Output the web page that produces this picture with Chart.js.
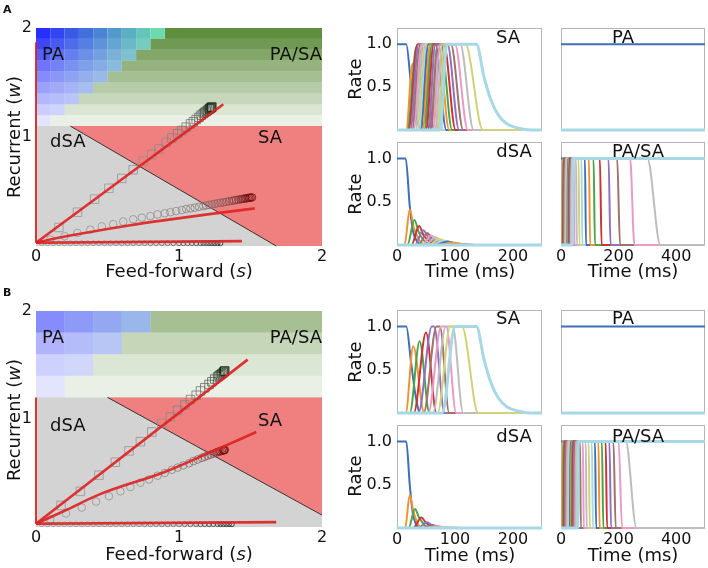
<!DOCTYPE html>
<html>
<head>
<meta charset="utf-8">
<script src="https://cdn.jsdelivr.net/npm/chart.js@4.4.0/dist/chart.umd.min.js"></script>
<style>
body { margin:0; background:#fff; width:708px; height:568px; overflow:hidden; position:relative; font-family:'DejaVu Sans', sans-serif; color:#111; }
canvas { position:absolute; }
.t { position:absolute; white-space:nowrap; transform:translate(-50%,-50%); font-size:18px; line-height:1; }
.v { transform:translate(-50%,-50%) rotate(-90deg); }
.tl { position:absolute; white-space:nowrap; transform:translate(0,-50%); font-size:18px; line-height:1; }
.tr { position:absolute; white-space:nowrap; transform:translate(-100%,-50%); font-size:18px; line-height:1; }
.pl { position:absolute; font-weight:bold; font-size:11px; }
</style>
</head>
<body>
<canvas id="phA"></canvas>
<canvas id="phB"></canvas>
<canvas id="saA"></canvas><canvas id="paA"></canvas><canvas id="dsaA"></canvas><canvas id="pasaA"></canvas>
<canvas id="saB"></canvas><canvas id="paB"></canvas><canvas id="dsaB"></canvas><canvas id="pasaB"></canvas>

<div class="pl" style="left:3px;top:3px">A</div>
<div class="pl" style="left:3px;top:286px">B</div>

<div class="tl" style="left:42px;top:54px">PA</div>
<div class="tr" style="left:322px;top:54px">PA/SA</div>
<div class="tl" style="left:50px;top:141px">dSA</div>
<div class="tl" style="left:258px;top:137px">SA</div>
<div class="tl" style="left:42px;top:337px">PA</div>
<div class="tr" style="left:322px;top:337px">PA/SA</div>
<div class="tl" style="left:50px;top:425px">dSA</div>
<div class="tl" style="left:258px;top:420px">SA</div>

<div class="t" style="left:508px;top:37px">SA</div>
<div class="t" style="left:623px;top:37px">PA</div>
<div class="t" style="left:514px;top:151px">dSA</div>
<div class="t" style="left:638px;top:151px">PA/SA</div>
<div class="t" style="left:508px;top:318px">SA</div>
<div class="t" style="left:623px;top:318px">PA</div>
<div class="t" style="left:514px;top:436px">dSA</div>
<div class="t" style="left:638px;top:436px">PA/SA</div>

<div class="t" style="left:179px;top:271px">Feed-forward (<i>s</i>)</div>
<div class="t" style="left:179px;top:554px">Feed-forward (<i>s</i>)</div>
<div class="t v" style="left:14px;top:137px">Recurrent (<i>w</i>)</div>
<div class="t v" style="left:14px;top:420px">Recurrent (<i>w</i>)</div>
<div class="t" style="left:470px;top:271px">Time (ms)</div>
<div class="t" style="left:633px;top:271px">Time (ms)</div>
<div class="t" style="left:470px;top:555px">Time (ms)</div>
<div class="t" style="left:633px;top:555px">Time (ms)</div>
<div class="t v" style="left:355px;top:79px">Rate</div>
<div class="t v" style="left:355px;top:194px">Rate</div>
<div class="t v" style="left:355px;top:362px">Rate</div>
<div class="t v" style="left:355px;top:476px">Rate</div>

<script>
// ---------- phase diagrams ----------
const sTicks = [0, 1, 2];
const wTicks = [1, 2];

// panel A
const rowTopA = [2.0, 1.9, 1.8, 1.7, 1.6, 1.5, 1.4, 1.3, 1.2];
const paEdgeA = [0.9, 0.8, 0.7, 0.6, 0.5, 0.4, 0.3, 0.2, 0.1];
const splitA = 1.1;
const dsaEdgeA = [[0.24, 1.1], [1.68, 0]];
const sqA_s = [0.16,0.29,0.41,0.51,0.60,0.68,0.75,0.81,0.86,0.91,0.95,0.99,1.02,1.05,1.08,1.10,1.12,1.14,1.155,1.17,1.18,1.19,1.20,1.21,1.215,1.22,1.225,1.23];
const sqA_w = [0.17,0.31,0.43,0.53,0.62,0.70,0.78,0.84,0.89,0.95,0.99,1.03,1.06,1.09,1.12,1.14,1.16,1.18,1.20,1.215,1.225,1.235,1.245,1.255,1.26,1.265,1.27,1.275];
const ciA_s = [0.10,0.20,0.29,0.38,0.46,0.54,0.61,0.68,0.74,0.80,0.85,0.90,0.94,0.98,1.02,1.05,1.08,1.11,1.14,1.17,1.19,1.21,1.23,1.25,1.27,1.29,1.31,1.33,1.35,1.37,1.385,1.40,1.415,1.43,1.44,1.45,1.46,1.47,1.48,1.49,1.50,1.51];
const ciA_w = [0.06,0.09,0.12,0.15,0.18,0.20,0.225,0.245,0.26,0.275,0.29,0.30,0.31,0.32,0.33,0.34,0.345,0.352,0.36,0.366,0.372,0.377,0.382,0.387,0.392,0.397,0.40,0.405,0.41,0.415,0.418,0.422,0.425,0.428,0.43,0.433,0.435,0.437,0.44,0.442,0.444,0.446];
const lowA_s = [0.04,0.08,0.12,0.16,0.20,0.24,0.28,0.32,0.36,0.40,0.44,0.48,0.52,0.56,0.60,0.64,0.68,0.72,0.76,0.80,0.84,0.88,0.92,0.96,1.00,1.03,1.06,1.09,1.12,1.15,1.17,1.19,1.21,1.23,1.25,1.27,1.29];
const lowA_w = 0.025;
const fit1A_s = [0, 1.31], fit1A_w = [0.03, 1.30];
const fit2A_s = [0, 0.1, 0.3, 0.66, 0.89, 1.2, 1.53], fit2A_w = [0.03, 0.06, 0.11, 0.19, 0.235, 0.29, 0.345];
const fit3A_s = [0, 1.44], fit3A_w = [0.03, 0.045];
const axisFitA_w = [0.03, 1.87];

// panel B
const rowTopB = [2.0, 1.8, 1.6, 1.4];
const paEdgeB = [0.8, 0.6, 0.4, 0.2];
const splitB = 1.2;
const dsaEdgeB = [[0.5, 1.2], [2.0, 0.11]];
const sqB_s = [0.175,0.31,0.44,0.555,0.65,0.73,0.81,0.88,0.94,0.99,1.04,1.08,1.12,1.15,1.18,1.21,1.23,1.25,1.27,1.28,1.29,1.30,1.31,1.315,1.32];
const sqB_w = [0.20,0.33,0.48,0.60,0.705,0.79,0.88,0.96,1.02,1.08,1.13,1.18,1.22,1.26,1.29,1.32,1.345,1.37,1.39,1.40,1.41,1.42,1.43,1.44,1.445];
const ciB_s = [0.10,0.21,0.32,0.42,0.51,0.59,0.66,0.73,0.79,0.85,0.90,0.95,0.99,1.03,1.07,1.10,1.13,1.16,1.18,1.20,1.22,1.24,1.26,1.27,1.28,1.29,1.30,1.31,1.315,1.32];
const ciB_w = [0.07,0.125,0.18,0.235,0.285,0.33,0.37,0.41,0.44,0.475,0.50,0.53,0.55,0.57,0.59,0.61,0.625,0.64,0.65,0.66,0.67,0.68,0.69,0.695,0.70,0.70,0.705,0.71,0.71,0.715];
const lowB_s = [0.04,0.08,0.12,0.16,0.20,0.24,0.28,0.32,0.36,0.40,0.44,0.48,0.52,0.56,0.60,0.64,0.68,0.72,0.76,0.80,0.84,0.88,0.92,0.96,1.00,1.04,1.08,1.12,1.15,1.18,1.21,1.24,1.27,1.29,1.31,1.33,1.35,1.37];
const lowB_w = 0.025;
const fit1B_s = [0, 1.48], fit1B_w = [0.03, 1.55];
const fit2B_s = [0, 0.2, 0.44, 0.9, 1.2, 1.54], fit2B_w = [0.03, 0.15, 0.30, 0.51, 0.68, 0.88];
const fit3B_s = [0, 1.68], fit3B_w = [0.03, 0.045];
const axisFitB_w = [0.03, 1.2];

// ---------- rate traces (time ms, rate) ----------
const saA = [
  [[0,1],[16,1],[24,0.55],[32,0.2],[42,0]],
  [[16,0],[25,0.72],[28,0.78],[38,0.3],[48,0]],
  [[18,0],[31,0.9],[34,0.97],[44,0.4],[52,0]],
  [[20,0],[35,1],[38,1],[56,0]],
  [[23,0],[37,1],[42,1],[60,0]],
  [[26,0],[40,1],[46,1],[64,0]],
  [[29,0],[42,1],[50,1],[68,0]],
  [[32,0],[45,1],[54,1],[72,0]],
  [[35,0],[48,1],[58,1],[76,0]],
  [[38,0],[51,1],[62,1],[80,0]],
  [[41,0],[54,1],[66,1],[85,0]],
  [[44,0],[57,1],[71,1],[90,0]],
  [[47,0],[60,1],[76,1],[95,0]],
  [[50,0],[63,1],[81,1],[101,0]],
  [[54,0],[66,1],[87,1],[107,0]],
  [[58,0],[70,1],[93,1],[114,0]],
  [[62,0],[74,1],[100,1],[122,0]],
  [[66,0],[78,1],[109,1],[132,0]],
  [[70,0],[82,1],[118,1],[148,0]],
  [[74,0],[86,1],[137,1],[150,0.62],[162,0.35],[175,0.17],[190,0.07],[210,0.02],[230,0]]
];
const dsaA = [
  [[0,1],[15,1],[22,0.45],[28,0.15],[36,0.03],[44,0]],
  [[13,0],[22,0.41],[29,0.2],[38,0.06],[50,0]],
  [[18,0],[30,0.29],[38,0.14],[48,0.04],[60,0]],
  [[25,0],[38,0.22],[46,0.11],[58,0.03],[70,0]],
  [[31,0],[45,0.17],[54,0.09],[66,0.02],[80,0]],
  [[37,0],[52,0.14],[61,0.07],[74,0.02],[88,0]],
  [[43,0],[59,0.11],[68,0.06],[82,0.02],[96,0]],
  [[49,0],[66,0.09],[76,0.05],[90,0.015],[105,0]],
  [[55,0],[73,0.07],[84,0.04],[98,0.01],[115,0]],
  [[61,0],[80,0.05],[92,0.03],[108,0.01],[125,0]],
  [[67,0],[87,0.04],[100,0.02],[135,0]],
  [[73,0],[94,0.03],[108,0.015],[140,0]],
  [[0,0],[250,0]]
];
const pasaRiseA = [0, 4, 6, 8, 10, 12, 14, 16, 18, 20, 22, 24, 26, 28, 30, 32, 34, 36, 38, 40];
const pasaFallStartA = [10,14,19,25,31,37,44,52,61,71,83,97,113,135,165,195,240,300,null,null];
const pasaFallEndA   = [13,17,22,28,34,40,47,55,64,74,87,101,118,141,172,205,255,345,null,null];

const saB = [
  [[0,1],[16,1],[24,0.6],[32,0.2],[40,0]],
  [[15,0],[28,0.77],[47,0]],
  [[22,0],[39,0.83],[56,0]],
  [[29,0],[50,0.93],[68,0]],
  [[37,0],[60,1],[64,1],[82,0]],
  [[46,0],[68,1],[74,1],[90,0]],
  [[54,0],[76,1],[85,1],[102,0]],
  [[62,0],[84,1],[96,1],[114,0]],
  [[70,0],[92,1],[112,1],[140,0]],
  [[78,0],[100,1],[137,1],[150,0.62],[162,0.35],[175,0.17],[190,0.07],[210,0.02],[230,0]]
];
const dsaB = [
  [[0,1],[16,1],[22,0.5],[27,0.18],[33,0.04],[40,0]],
  [[14,0],[22,0.38],[28,0.2],[36,0.05],[46,0]],
  [[20,0],[31,0.22],[38,0.12],[48,0.03],[58,0]],
  [[28,0],[42,0.12],[50,0.06],[60,0.015],[72,0]],
  [[36,0],[52,0.065],[60,0.035],[72,0.01],[84,0]],
  [[44,0],[60,0.035],[70,0.02],[95,0]],
  [[50,0],[68,0.02],[80,0.01],[105,0]],
  [[56,0],[76,0.01],[110,0]],
  [[62,0],[84,0.006],[115,0]],
  [[0,0],[250,0]]
];
const pasaRiseB = [0, 4, 7, 10, 13, 16, 19, 22, 25, 28, 31, 34, 37, 40, 43, 46, 49, 52, 55, 58];
const pasaFallStartB = [16,26,36,46,56,66,76,86,96,107,118,130,142,155,168,182,200,225,null,null];
const pasaFallEndB   = [19,29,39,49,59,69,79,89,100,111,122,134,147,160,174,190,212,262,null,null];

// PA: first unit stays active, the rest stay silent
const paA = [[[0,1],[500,1]], [[0,0],[500,0]]];
const paB = [[[0,1],[500,1]], [[0,0],[500,0]]];

const tSA = [0, 100, 200], tPASA = [0, 200, 400];
const rateTicks = [0.5, 1.0];

// ---------- styling ----------
Chart.defaults.font.family = "'DejaVu Sans', sans-serif";
Chart.defaults.font.size = 16;
Chart.defaults.color = '#111';
const palette = ['#3f6fb5','#f39233','#4aa44a','#cc3333','#9170c0','#9c7468','#e89ac8','#bdbdbd','#d2d27a','#a6d8e6'];
const styleA = { cellW: 0.1, alpha: [0.94,0.84,0.73,0.63,0.53,0.43,0.33,0.22,0.12], teal: 1, tealCols: 8 };
const styleB = { cellW: 0.2, alpha: [0.52,0.34,0.21,0.12], teal: 0.45, tealCols: 3 };

function place(id, L, T, R, B, m) {
  const c = document.getElementById(id);
  const w = R - L + m.l + m.r, h = B - T + m.t + m.b;
  c.width = w; c.height = h;
  c.style.width = w + 'px'; c.style.height = h + 'px';
  c.style.left = (L - m.l) + 'px'; c.style.top = (T - m.t) + 'px';
  return c;
}
const zip = (xs, ys) => xs.map((x, i) => ({ x: x, y: Array.isArray(ys) ? ys[i] : ys }));
// keep the plot box fixed: no extra room for edge labels
const noPad = s => { s.paddingTop = 0; s.paddingBottom = 0; s.paddingLeft = 0; s.paddingRight = 0; };

function shade(n, end) {
  return Array.from({ length: n }, (_, i) => {
    const f = Math.pow(i / (n - 1), 2);
    const g = 150 * (1 - f);
    return 'rgb(' + Math.round(g + end[0] * f) + ',' + Math.round(g + end[1] * f) + ',' + Math.round(g + end[2] * f) + ')';
  });
}

function regionPlugin(rowTop, paEdge, split, edge, st) {
  return {
    id: 'regions',
    beforeDatasetsDraw(chart) {
      const ctx = chart.ctx, x = chart.scales.x, y = chart.scales.y;
      const X = v => x.getPixelForValue(v), Y = v => y.getPixelForValue(v);
      ctx.save();
      ctx.fillStyle = '#d3d3d3';
      ctx.fillRect(X(0), Y(split), X(2) - X(0), Y(0) - Y(split));
      ctx.fillStyle = '#f08080';
      ctx.beginPath();
      ctx.moveTo(X(edge[0][0]), Y(edge[0][1]));
      ctx.lineTo(X(2), Y(split));
      ctx.lineTo(X(2), Y(0));
      if (edge[1][0] < 2) ctx.lineTo(X(edge[1][0]), Y(0));
      ctx.lineTo(X(edge[1][0]), Y(edge[1][1]));
      ctx.closePath(); ctx.fill();
      rowTop.forEach((top, i) => {
        const bot = i + 1 < rowTop.length ? rowTop[i + 1] : split;
        const a = st.alpha[i];
        ctx.fillStyle = 'rgba(85,135,50,' + a + ')';
        ctx.fillRect(X(paEdge[i]), Y(top), X(2) - X(paEdge[i]), Y(bot) - Y(top));
        const n = Math.round(paEdge[i] / st.cellW);
        for (let j = 0; j < n; j++) {
          const t = Math.min(1, j / st.tealCols) * st.teal;
          const r = 25 + (100 - 25) * t, g = 35 + (215 - 35) * t, b = 250 + (170 - 250) * t;
          ctx.fillStyle = 'rgba(' + Math.round(r) + ',' + Math.round(g) + ',' + Math.round(b) + ',' + a + ')';
          ctx.fillRect(X(j * st.cellW), Y(top), X((j + 1) * st.cellW) - X(j * st.cellW), Y(bot) - Y(top));
        }
      });
      ctx.strokeStyle = '#111'; ctx.lineWidth = 0.8;
      ctx.beginPath();
      ctx.moveTo(X(edge[0][0]), Y(edge[0][1]));
      ctx.lineTo(X(edge[1][0]), Y(edge[1][1]));
      ctx.stroke();
      ctx.restore();
    }
  };
}

function phaseChart(id, area, P) {
  const m = { l: 40, t: 14, r: 10, b: 24 };
  const c = place(id, area[0], area[1], area[2], area[3], m);
  const red = 'rgba(222,35,35,0.92)';
  const fitLine = (xs, ys, lw) => ({ data: zip(xs, ys), showLine: true, borderColor: red, borderWidth: lw,
    pointRadius: 0, cubicInterpolationMode: 'monotone', order: 0 });
  new Chart(c, {
    type: 'scatter',
    data: { datasets: [
      fitLine(P.f1s, P.f1w, 2.6), fitLine(P.f2s, P.f2w, 2.6), fitLine(P.f3s, P.f3w, 2.6), fitLine([0, 0], P.axw, 2),
      { data: zip(P.lows, P.loww), pointStyle: 'circle', pointRadius: 2.4, pointBorderWidth: 0.8,
        pointBackgroundColor: 'rgba(0,0,0,0)', pointBorderColor: shade(P.lows.length, [30, 30, 30]), order: 1 },
      { data: zip(P.cis, P.ciw), pointStyle: 'circle', pointRadius: 3.8, pointBorderWidth: 0.8,
        pointBackgroundColor: 'rgba(0,0,0,0)', pointBorderColor: shade(P.cis.length, [110, 0, 0]), order: 2 },
      { data: zip(P.sqs, P.sqw), pointStyle: 'rect', pointRadius: 6, pointBorderWidth: 0.8,
        pointBackgroundColor: 'rgba(0,0,0,0)', pointBorderColor: shade(P.sqs.length, [10, 30, 10]), order: 3 }
    ].map(d => Object.assign({ clip: false }, d)) },
    options: {
      responsive: false, animation: false, events: [],
      layout: { padding: { left: 0, top: m.t, right: m.r, bottom: 0 } },
      plugins: { legend: { display: false }, tooltip: { enabled: false } },
      scales: {
        x: { type: 'linear', min: 0, max: 2, afterFit(s) { s.height = m.b; noPad(s); },
          afterBuildTicks(s) { s.ticks = sTicks.map(v => ({ value: v })); },
          grid: { display: false, drawTicks: false }, border: { display: false },
          ticks: { padding: 1, maxRotation: 0, autoSkip: false, callback: v => String(v) } },
        y: { type: 'linear', min: 0, max: 2, afterFit(s) { s.width = m.l; noPad(s); },
          afterBuildTicks(s) { s.ticks = wTicks.map(v => ({ value: v })); },
          grid: { display: false, drawTicks: false }, border: { display: false },
          ticks: { padding: 4, autoSkip: false, callback: v => String(v) } }
      }
    },
    plugins: [regionPlugin(P.rowTop, P.paEdge, P.split, P.edge, P.style)]
  });
}

const framePlugin = {
  id: 'frame',
  beforeDatasetsDraw(chart) {
    const a = chart.chartArea, ctx = chart.ctx;
    ctx.save(); ctx.strokeStyle = '#b5b5b5'; ctx.lineWidth = 1;
    ctx.strokeRect(a.left + 0.5, a.top + 0.5, a.right - a.left - 1, a.bottom - a.top - 1);
    ctx.restore();
  }
};

function extend(pts, xmax) {
  const out = pts.slice();
  if (out[0][0] > 0) out.unshift([0, out[0][1]]);
  const last = out[out.length - 1];
  if (last[0] < xmax) out.push([xmax, last[1]]);
  return out;
}
function stepCurves(rise, fs, fe) {
  return rise.map((r, i) => {
    const pts = r > 0 ? [[r, 0], [r + 2, 1]] : [[0, 1]];
    if (fs[i] != null) pts.push([fs[i], 1], [fe[i], 0]);
    return pts;
  });
}

function rateChart(id, area, curves, xmax, xticks, showX, showY) {
  const m = { l: 48, t: 6, r: 3, b: 24 };
  const c = place(id, area[0], area[1], area[2], area[3], m);
  const n = curves.length;
  new Chart(c, {
    type: 'scatter',
    data: { datasets: curves.map((pts, i) => ({
      data: extend(pts, xmax).map(p => ({ x: p[0], y: p[1] })),
      showLine: true, pointRadius: 0, clip: false,
      borderColor: i === n - 1 ? palette[9] : palette[i % 10], borderWidth: i === n - 1 ? 3 : 2,
      cubicInterpolationMode: 'monotone', order: n - i
    })) },
    options: {
      responsive: false, animation: false, events: [],
      layout: { padding: { left: 0, top: m.t, right: m.r, bottom: 0 } },
      plugins: { legend: { display: false }, tooltip: { enabled: false } },
      scales: {
        x: { type: 'linear', min: 0, max: xmax, afterFit(s) { s.height = m.b; noPad(s); },
          afterBuildTicks(s) { s.ticks = xticks.map(v => ({ value: v })); },
          grid: { display: false, drawTicks: false }, border: { display: false },
          ticks: { display: showX, padding: 2, maxRotation: 0, autoSkip: false, callback: v => String(v) } },
        y: { type: 'linear', min: 0, max: 1.19, afterFit(s) { s.width = m.l; noPad(s); },
          afterBuildTicks(s) { s.ticks = rateTicks.map(v => ({ value: v })); },
          grid: { display: false, drawTicks: false }, border: { display: false },
          ticks: { display: showY, padding: 5, autoSkip: false, callback: v => v.toFixed(1) } }
      }
    },
    plugins: [framePlugin]
  });
}

phaseChart('phA', [36, 28, 322, 246], {
  rowTop: rowTopA, paEdge: paEdgeA, split: splitA, edge: dsaEdgeA, style: styleA,
  sqs: sqA_s, sqw: sqA_w, cis: ciA_s, ciw: ciA_w, lows: lowA_s, loww: lowA_w,
  f1s: fit1A_s, f1w: fit1A_w, f2s: fit2A_s, f2w: fit2A_w, f3s: fit3A_s, f3w: fit3A_w, axw: axisFitA_w
});
phaseChart('phB', [36, 311, 322, 527], {
  rowTop: rowTopB, paEdge: paEdgeB, split: splitB, edge: dsaEdgeB, style: styleB,
  sqs: sqB_s, sqw: sqB_w, cis: ciB_s, ciw: ciB_w, lows: lowB_s, loww: lowB_w,
  f1s: fit1B_s, f1w: fit1B_w, f2s: fit2B_s, f2w: fit2B_w, f3s: fit3B_s, f3w: fit3B_w, axw: axisFitB_w
});

rateChart('saA', [397, 28, 542, 130], saA, 250, tSA, false, true);
rateChart('paA', [561, 28, 705, 130], paA, 500, tPASA, false, false);
rateChart('dsaA', [397, 142, 542, 245], dsaA, 250, tSA, true, true);
rateChart('pasaA', [561, 142, 705, 245], stepCurves(pasaRiseA, pasaFallStartA, pasaFallEndA), 500, tPASA, true, false);

rateChart('saB', [397, 310, 542, 413], saB, 250, tSA, false, true);
rateChart('paB', [561, 310, 705, 413], paB, 500, tPASA, false, false);
rateChart('dsaB', [397, 425, 542, 528], dsaB, 250, tSA, true, true);
rateChart('pasaB', [561, 425, 705, 528], stepCurves(pasaRiseB, pasaFallStartB, pasaFallEndB), 500, tPASA, true, false);
</script>
</body>
</html>
